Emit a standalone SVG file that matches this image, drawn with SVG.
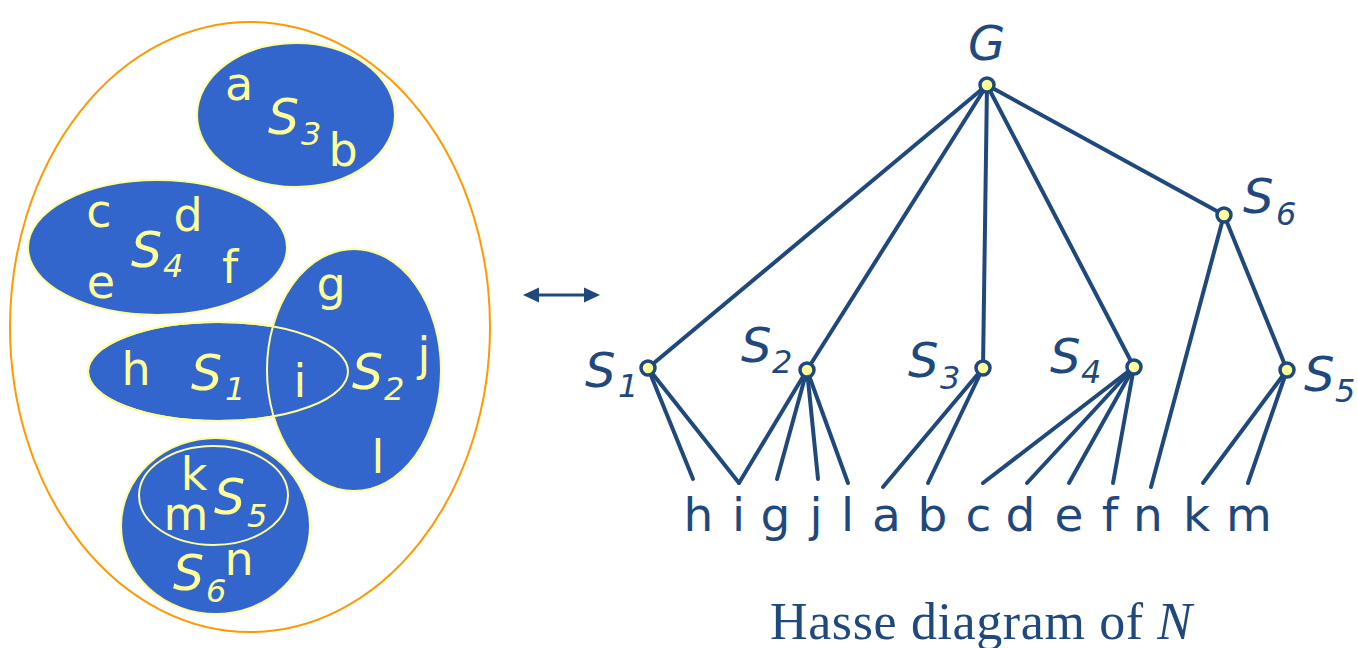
<svg xmlns="http://www.w3.org/2000/svg" width="1358" height="648" viewBox="0 0 1358 648">
<defs>
<style>
.set{fill:#3366CC;stroke:#FFFF99;stroke-width:2}
.ring{fill:none;stroke:#FFFF99;stroke-width:2}
.lt{font-family:"DejaVu Sans",Verdana,sans-serif;font-size:46px;fill:#FFFF99;text-anchor:middle}
.ls{font-family:"DejaVu Sans",Verdana,sans-serif;font-size:49px;font-style:italic;fill:#FFFF99}
.lsub{font-family:"DejaVu Sans",Verdana,sans-serif;font-size:32px;font-style:italic;fill:#FFFF99}
.rt{font-family:"DejaVu Sans",Verdana,sans-serif;font-size:47px;fill:#1F497D;text-anchor:middle}
.rs{font-family:"DejaVu Sans",Verdana,sans-serif;font-size:48px;font-style:italic;fill:#1F497D}
.rsub{font-family:"DejaVu Sans",Verdana,sans-serif;font-size:32px;font-style:italic;fill:#1F497D}
.edge{stroke:#1F497D;stroke-width:4;fill:none;stroke-linecap:round}
.node{fill:#FFFF99;stroke:#1F497D;stroke-width:3.5}
.head{fill:#1F497D}
</style>
</defs>
<rect width="1358" height="648" fill="#FFFFFF"/>

<g id="universe">
<ellipse cx="250" cy="327" rx="240" ry="305" fill="none" stroke="#FF9900" stroke-width="2"/>
</g>

<g id="set-S3">
<ellipse class="set" cx="296" cy="115" rx="99" ry="72"/>
<text class="lt" x="239" y="100">a</text>
<text class="ls" x="268" y="134">S</text><text class="lsub" x="301" y="145">3</text>
<text class="lt" x="343" y="166">b</text>
</g>

<g id="set-S4">
<ellipse class="set" cx="157.5" cy="247.5" rx="129.5" ry="67.5"/>
<text class="lt" x="99" y="227">c</text>
<text class="lt" x="188" y="231">d</text>
<text class="ls" x="131" y="267">S</text><text class="lsub" x="163" y="277">4</text>
<text class="lt" x="101" y="298">e</text>
<text class="lt" x="230" y="283">f</text>
</g>

<g id="set-S1">
<ellipse class="set" cx="218" cy="371.5" rx="130" ry="49.5"/>
</g>
<g id="set-S2">
<ellipse class="set" cx="354" cy="370" rx="87" ry="121"/>
<ellipse class="ring" cx="218" cy="371.5" rx="130" ry="49.5"/>
<text class="lt" x="331" y="300">g</text>
<text class="lt" x="424" y="370">j</text>
<text class="ls" x="352" y="389">S</text><text class="lsub" x="384" y="400">2</text>
<text class="lt" x="378" y="473">l</text>
<text class="lt" x="136" y="385">h</text>
<text class="ls" x="191" y="390">S</text><text class="lsub" x="225" y="400">1</text>
<text class="lt" x="300" y="397">i</text>
</g>

<g id="set-S6">
<ellipse class="set" cx="215.5" cy="526" rx="94.5" ry="88"/>
<ellipse class="ring" cx="213.5" cy="495.5" rx="74.5" ry="49.5"/>
<text class="lt" x="194" y="490">k</text>
<text class="lt" x="186" y="530">m</text>
<text class="ls" x="214" y="514">S</text><text class="lsub" x="247" y="527">5</text>
<text class="ls" x="173" y="590">S</text><text class="lsub" x="206" y="602">6</text>
<text class="lt" x="239" y="575">n</text>
</g>

<g id="connectors">
<g id="double-arrow">
<line x1="536" y1="295" x2="587" y2="295" stroke="#1F497D" stroke-width="3"/>
<polygon class="head" points="523,295 539,287.5 539,302.5"/>
<polygon class="head" points="600,295 584,287.5 584,302.5"/>
</g>
<line class="edge" x1="987" y1="85" x2="648" y2="368"/>
<line class="edge" x1="987" y1="85" x2="807" y2="370"/>
<line class="edge" x1="987" y1="85" x2="983" y2="368"/>
<line class="edge" x1="987" y1="85" x2="1134" y2="367"/>
<line class="edge" x1="987" y1="85" x2="1224" y2="215"/>
<line class="edge" x1="1224" y1="215" x2="1287" y2="370"/>
<line class="edge" x1="1224" y1="215" x2="1151" y2="487"/>
<line class="edge" x1="648" y1="368" x2="693" y2="479"/>
<line class="edge" x1="648" y1="368" x2="739" y2="483"/>
<line class="edge" x1="807" y1="370" x2="739" y2="483"/>
<line class="edge" x1="807" y1="370" x2="777" y2="479"/>
<line class="edge" x1="807" y1="370" x2="818" y2="479"/>
<line class="edge" x1="807" y1="370" x2="848" y2="483"/>
<line class="edge" x1="983" y1="368" x2="883" y2="487"/>
<line class="edge" x1="983" y1="368" x2="928" y2="483"/>
<line class="edge" x1="1134" y1="367" x2="983" y2="483"/>
<line class="edge" x1="1134" y1="367" x2="1027" y2="483"/>
<line class="edge" x1="1134" y1="367" x2="1069" y2="483"/>
<line class="edge" x1="1134" y1="367" x2="1113" y2="483"/>
<line class="edge" x1="1287" y1="370" x2="1203" y2="483"/>
<line class="edge" x1="1287" y1="370" x2="1248" y2="483"/>
</g>

<g id="node-G"><circle class="node" cx="987" cy="85" r="7"/><text class="rs" x="968" y="60">G</text></g>
<g id="node-S6"><circle class="node" cx="1224" cy="215" r="7"/><text class="rs" x="1243" y="213">S</text><text class="rsub" x="1276" y="225">6</text></g>
<g id="node-S1"><circle class="node" cx="648" cy="368" r="7"/><text class="rs" x="585" y="387">S</text><text class="rsub" x="618" y="397">1</text></g>
<g id="node-S2"><circle class="node" cx="807" cy="370" r="7"/><text class="rs" x="741" y="362">S</text><text class="rsub" x="772" y="373">2</text></g>
<g id="node-S3"><circle class="node" cx="983" cy="368" r="7"/><text class="rs" x="908" y="377">S</text><text class="rsub" x="940" y="389">3</text></g>
<g id="node-S4"><circle class="node" cx="1134" cy="367" r="7"/><text class="rs" x="1050" y="373">S</text><text class="rsub" x="1081" y="383">4</text></g>
<g id="node-S5"><circle class="node" cx="1287" cy="370" r="7"/><text class="rs" x="1304" y="391">S</text><text class="rsub" x="1335" y="402">5</text></g>

<g id="leaves">
<text class="rt" x="698.5" y="531">h</text>
<text class="rt" x="738.5" y="531">i</text>
<text class="rt" x="775.5" y="531">g</text>
<text class="rt" x="816" y="531">j</text>
<text class="rt" x="847.5" y="531">l</text>
<text class="rt" x="886.5" y="531">a</text>
<text class="rt" x="932.5" y="531">b</text>
<text class="rt" x="978.5" y="531">c</text>
<text class="rt" x="1020.5" y="531">d</text>
<text class="rt" x="1069" y="531">e</text>
<text class="rt" x="1110" y="531">f</text>
<text class="rt" x="1148" y="531">n</text>
<text class="rt" x="1196.5" y="531">k</text>
<text class="rt" x="1249" y="531">m</text>
</g>

<g id="caption">
<text x="770" y="639" font-family="'Liberation Serif','Times New Roman',serif" font-size="52" fill="#1F497D" textLength="422" lengthAdjust="spacing">Hasse diagram of <tspan font-style="italic">N</tspan></text>
</g>
</svg>
